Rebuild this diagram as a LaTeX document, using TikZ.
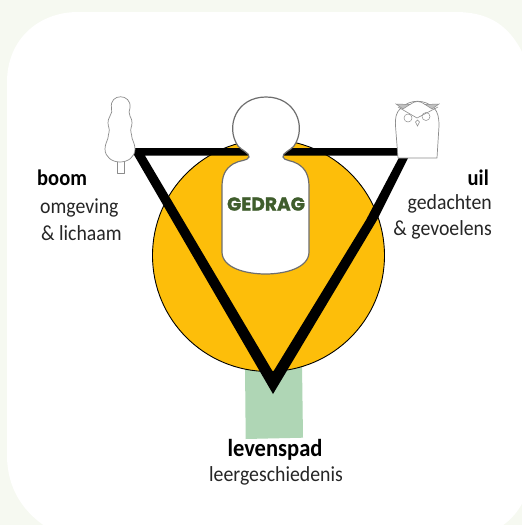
\documentclass[tikz,border=0pt]{standalone}
\usepackage{fontspec}
\setmainfont[FakeStretch=0.92]{Carlito}
\newfontfamily\gedragfont[BoldFeatures={FakeBold=1.5}]{Poppins}
\definecolor{pagebg}{HTML}{F6F9F1}
\definecolor{sun}{HTML}{FDBE0A}
\definecolor{pad}{HTML}{AFD6B5}
\definecolor{moss}{HTML}{3F5D2C}
\definecolor{figline}{HTML}{6E6E6E}
\definecolor{sketch}{HTML}{8C8C8C}
\tikzset{
  lbl/.style={inner sep=0pt,font=\fontsize{21.5}{23}\selectfont,text=black!85},
  lblb/.style={inner sep=0pt,font=\fontsize{22.3}{24}\selectfont\bfseries},
  icon/.style={draw=sketch,line width=0.7pt,fill=white,line join=round}
}
\begin{document}
\begin{tikzpicture}[x=1pt,y=-1pt]
\useasboundingbox (0,0) rectangle (522,525);
\fill[pagebg] (0,0) rectangle (522,525);
\begin{scope}
\clip (0,0) rectangle (522,525);
\fill[white] (7,82) .. controls (7,40) and (38,12) .. (78,12) -- (455,12)
  .. controls (495,12) and (515,30) .. (530,70) -- (530,480)
  .. controls (525,510) and (505,530) .. (480,535) -- (60,535)
  .. controls (30,520) and (7,495) .. (7,455) -- cycle;
\end{scope}
% path
\fill[pad] (245,365) -- (302,365) -- (303,437.7) -- (245.7,439) -- cycle;
% circle
\node[circle,draw=black,line width=0.9pt,fill=sun,minimum size=232pt,inner sep=0pt] (disc) at (268.5,255.5) {};
% triangle
\fill[black] (130,148) -- (405,148) -- (405,155.7) -- (145,155.7) -- (273,372)
  -- (366,220) -- (403,150) -- (412,150) -- (377,220) -- (273,394) -- cycle;
% person
\draw[draw=figline,line width=1.2pt,fill=white]
  (238,146)
  .. controls (225,127) and (236,97) .. (266,97)
  .. controls (296,97) and (307,127) .. (294,146)
  .. controls (291,150) and (282,153) .. (283,157)
  .. controls (284,161) and (292,160) .. (298,164)
  .. controls (306,169) and (309,176) .. (309,187)
  -- (309,252)
  .. controls (309,268) and (285,274) .. (265.5,274)
  .. controls (246,274) and (222,268) .. (222,252)
  -- (222,187)
  .. controls (222,176) and (225,169) .. (233,164)
  .. controls (239,160) and (248,161) .. (249,157)
  .. controls (250,153) and (241,150) .. (238,146) -- cycle;
\node[inner sep=0pt,text=moss,font=\gedragfont\fontsize{18.6}{19}\selectfont\bfseries] (gedrag) at (266,204) {GEDRAG};
% tree
\draw[icon] (117,160) rectangle (124,173);
\draw[icon] (111.5,108)
  .. controls (109,93) and (132,93) .. (130,108)
  .. controls (129.5,111) and (128,113) .. (130,116)
  .. controls (133,121) and (132,125) .. (131,128)
  .. controls (130,131) and (132,135) .. (132,138)
  .. controls (133,141) and (135,145) .. (135,149)
  .. controls (135,157) and (128,162) .. (120,162)
  .. controls (112,162) and (105,157) .. (105,149)
  .. controls (105,145) and (107,141) .. (108,138)
  .. controls (108,135) and (110,131) .. (109,128)
  .. controls (108,125) and (107,121) .. (110,116)
  .. controls (112,113) and (112,111) .. (111.5,108) -- cycle;
% owl
\draw[icon,fill=white] (401,108)
  .. controls (396,112) and (395,118) .. (395.5,126)
  -- (398,158) -- (437,158) -- (439,126)
  .. controls (439,118) and (438,112) .. (434,108)
  .. controls (425,99) and (410,99) .. (401,108) -- cycle;
\filldraw[draw=sketch,fill=sketch!55,line width=0.5pt] (396,104) -- (410,104.5) -- (403,109) -- cycle;
\filldraw[draw=sketch,fill=sketch!55,line width=0.5pt] (439,104) -- (425,104.5) -- (432,109) -- cycle;
\draw[sketch,line width=0.6pt] (398,107) -- (417,118) -- (438,107);
\draw[sketch,line width=0.6pt] (410,104.5) .. controls (415,100.5) and (420,100.5) .. (425,104.5);
\draw[sketch,line width=0.5pt] (408,118) circle (4) (426,116.5) circle (4);
\draw[sketch,line width=0.5pt] (415.5,122) -- (417.5,126) -- (419.5,122) -- (417.5,120) -- cycle;
% labels
\node[lblb,anchor=west] (boom) at (37,178) {boom};
\node[lbl,anchor=west] (omg) at (40,208) {omgeving};
\node[lbl,anchor=west] (lich) at (41,233) {\& lichaam};
\node[lblb,anchor=east] (uil) at (489,178) {uil};
\node[lbl,anchor=east] (ged) at (492,204) {gedachten};
\node[lbl,anchor=east] (gev) at (492,230) {\& gevoelens};
\node[lblb,font=\fontsize{24.5}{26}\selectfont\bfseries] (lp) at (275,450) {levenspad};
\node[lbl] (lg) at (276,476) {leergeschiedenis};
\end{tikzpicture}
\end{document}
